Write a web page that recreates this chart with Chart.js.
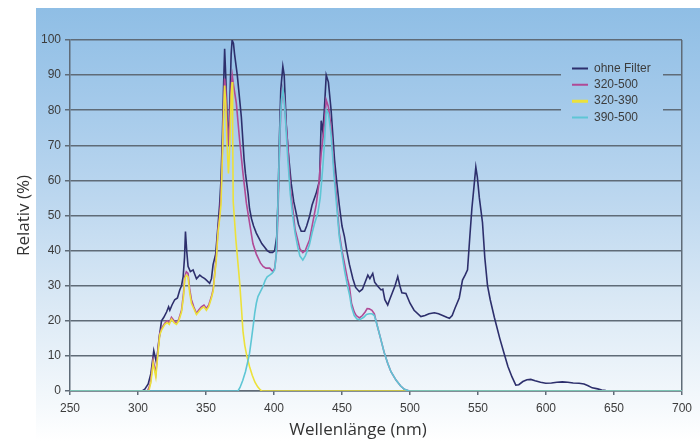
<!DOCTYPE html>
<html><head><meta charset="utf-8">
<script src="https://cdn.jsdelivr.net/npm/chart.js@4"></script>
<style>html,body{margin:0;padding:0;background:#fff}#wrap{width:700px;height:441px}</style>
</head><body><div id="wrap"><canvas id="c" width="700" height="441"></canvas></div>
<script>
const seriesLabels = ['ohne Filter', '320-500', '320-390', '390-500'];
const xTickValues = [250, 300, 350, 400, 450, 500, 550, 600, 650, 700];
const yTickValues = [0, 10, 20, 30, 40, 50, 60, 70, 80, 90, 100];

const wlOhne = [
250, 303, 305, 307.5, 309.5, 311.6, 313.6, 315.5, 317.3, 319,
321, 322.5, 323.4, 325, 327, 329, 330.7, 332, 333.2, 334.2,
334.9, 335.8, 336.8, 338.5, 340.5, 342, 343, 345.4, 347, 349.1,
350.5, 352.7, 354, 355.2, 357.1, 358.8, 360, 361, 362, 363,
363.7, 364.5, 365.5, 366.5, 367.5, 368.5, 369.2, 370.2, 371, 372,
373, 374, 375, 376, 377, 378, 379, 380, 381, 382,
383.5, 385, 387, 389, 391, 393, 395, 397, 399, 400.5,
402, 403, 404, 405, 406.5, 407.5, 409, 410.5, 412.7, 414.5,
416.4, 418, 420, 422.5, 424, 426.1, 428, 431, 433.5, 434.7,
435.9, 437, 438.4, 440, 442, 444.5, 446, 448, 450, 451.8,
453.5, 455.5, 458, 460, 462.8, 465, 467, 469, 470.5, 472.6,
474, 476, 478.7, 480, 481.5, 483.6, 485, 487, 489, 491,
492.5, 494, 497, 500, 503, 508, 511, 514, 517.9, 521,
524, 527, 529, 531, 533, 536.2, 538.6, 540.5, 542.3, 544,
545.5, 547, 548.4, 549.5, 551, 553.3, 555, 557, 559, 562,
566, 569.2, 572, 575, 577.8, 580, 583, 586, 588.8, 592,
596, 599.8, 604, 608, 612, 616, 620, 624.3, 628, 631,
634, 638, 641, 644, 646, 700];
const valOhne = [
0, 0, 0.5, 2, 5, 11.5, 8, 15, 20, 21,
22.5, 24, 23, 24.5, 26, 26.5, 28.8, 30, 32.6, 38,
45.4, 40, 35.5, 34, 34.5, 33, 32, 33, 32.5, 32,
31.5, 30.7, 32, 36, 39, 47, 53, 60, 72, 88,
97.5, 90, 78, 70, 82, 96, 100, 99, 96, 93,
90, 86, 82, 78, 72, 66, 62, 59, 56, 52,
49, 47, 45, 43.5, 42, 41, 40, 39.5, 39.5, 40,
44, 55, 72, 86, 92.5, 90, 76, 68, 59, 54,
50.5, 47.5, 45.5, 45.5, 47, 49.7, 53, 56.3, 60, 77,
74, 80, 90, 88, 80, 66, 60, 53, 47, 44,
40, 36, 32, 29.5, 28.3, 29, 31, 33, 32, 33.5,
31, 30, 28.8, 29, 26, 24.5, 26, 28, 30, 32.6,
30, 28, 27.8, 25, 23, 21.2, 21.5, 22, 22.3, 22,
21.5, 21, 20.7, 21.5, 23.5, 26.5, 31.6, 33, 34.5, 44,
52, 58, 63.8, 61, 55, 48, 38, 30, 26, 21,
15, 10.7, 7, 4, 1.7, 1.8, 2.7, 3.2, 3.3, 2.9,
2.5, 2.2, 2.3, 2.5, 2.6, 2.5, 2.3, 2.2, 2, 1.5,
0.9, 0.6, 0.3, 0.1, 0, 0];

const wl320500 = [
250, 307, 309, 311.1, 313.1, 314.5, 316, 317.5, 319.7, 321.5,
323, 324.6, 326.5, 328.3, 330, 332, 333.5, 334.4, 335.5, 336.8,
338, 339.3, 341, 343, 344.5, 346.6, 348.5, 350.3, 352, 354,
355.3, 356.4, 357.5, 358.8, 360, 361, 362, 363, 363.7, 364.5,
365.5, 366.5, 367.5, 368.5, 369.3, 370.3, 372.3, 374.7, 377.2, 379.7,
382, 384.5, 387, 390, 392, 394, 396.8, 399.2, 400.5, 402,
403, 404, 405, 406.3, 407.5, 408.5, 410.2, 412, 413.9, 415.5,
417.5, 419, 421.2, 423, 424.5, 426.1, 428, 431, 433, 434.7,
436, 437, 438.4, 440, 442, 444, 446, 448, 450, 452,
454, 455.5, 457, 459, 460.5, 462.8, 465, 467, 468.5, 470,
472, 473.8, 476, 478.7, 481, 483.6, 486, 489.7, 493, 495.8,
499.5, 700];
const val320500 = [
0, 0, 2, 8.8, 5, 11, 16.4, 18, 19.3, 20,
19.5, 21, 20, 19.3, 20.5, 23, 28, 32.6, 34, 33.5,
29, 26, 24, 22.1, 23, 24, 24.5, 23.5, 24.5, 26.9,
29, 33.5, 38, 45.9, 50, 56, 68, 82, 89, 86,
77, 70, 78, 87, 90, 87, 82, 71.5, 62, 53.5,
48, 42, 39, 36.5, 35.5, 35, 35, 34, 35, 40,
52, 68, 80, 86.2, 84, 78, 69.6, 58, 51.6, 46,
43, 40.5, 39.4, 40, 41.5, 43, 47, 53, 59, 67.7,
72, 76, 82.9, 81, 75, 64, 55, 45, 40, 36,
32, 29.7, 25, 22.5, 21.5, 20.8, 21.5, 22.5, 23.5, 23.4,
23, 22, 18.5, 14.5, 11, 7.9, 5.5, 3.1, 1.5, 0.5,
0, 0];

const wl320390 = [
250, 308, 309.5, 311.1, 313.1, 314.5, 316, 317.5, 319.7, 321.5,
323, 324.6, 326.5, 328.3, 330, 332, 333.5, 334.4, 335.5, 336.8,
338, 339.3, 341, 343, 344.5, 346.6, 348.5, 350.3, 352, 354,
355.3, 356.4, 357.5, 358.8, 360, 361, 362, 363, 363.7, 364.5,
365.5, 366.5, 367.5, 368.5, 369.2, 369.6, 370, 372, 374.8, 376,
377.2, 378.5, 380, 382, 384, 386, 388, 390, 391, 700];
const val320390 = [
0, 0, 2.5, 8, 4, 10, 16, 17.5, 19, 19.5,
19, 20.5, 19.5, 19, 20, 22.5, 27, 32, 33, 32.5,
28, 25, 23.5, 21.8, 22.5, 23.5, 24, 23, 24, 26.5,
28.5, 33, 37, 45, 49, 53, 66, 80, 87, 82,
70, 62, 70, 84, 88, 76, 54, 43, 30.7, 24,
17, 13, 10, 7, 4.5, 2.5, 1.2, 0.3, 0, 0];

const wl390500 = [
250, 373.5, 375, 377, 379, 380.5, 382, 383.5, 385, 385.8,
387, 388.2, 390, 391.8, 393.5, 395, 396.8, 398.5, 400.4, 401.5,
402.5, 403.5, 404.5, 405.5, 406.5, 407.5, 408.5, 410, 412, 413.9,
415.5, 417.5, 419, 421.2, 423, 424.5, 426, 428, 430, 432.2,
434, 435.9, 437, 438.4, 440, 442, 444, 446, 448, 450,
452, 454, 455.5, 457, 459, 461, 463, 466, 468, 470,
472, 473.8, 476, 478.7, 481, 483.6, 486, 489.7, 493, 495.8,
499.5, 700];
const val390500 = [
0, 0, 1, 3, 5.5, 8, 10.7, 15, 19.5, 22.1,
25, 26.9, 28.3, 29.7, 31.5, 32.5, 33, 33.5, 34.5, 38,
48, 62, 76, 83, 86, 83, 77, 67, 56, 49.5,
45, 41, 38.5, 37.3, 38.5, 40, 41.6, 45, 48, 50.6,
55, 63.9, 70, 80, 79, 73, 62, 53, 44, 39,
34, 30, 27.5, 24, 21.5, 20.5, 20.3, 21, 21.8, 22,
22, 21.5, 18.5, 14.5, 11, 7.9, 5.5, 3.1, 1.5, 0.5,
0, 0];

const toPts = (xs, ys) => xs.map((x, i) => ({x: x, y: ys[i]}));

const GRID = '#5f6b77';
const TXT = '#3c3c3c';

function makeGrad(ctx) {
  const g = ctx.createLinearGradient(0, 8, 0, 441);
  g.addColorStop(0, '#8fbee5');
  g.addColorStop(0.21, '#a3c9ea');
  g.addColorStop(0.44, '#bcd7ef');
  g.addColorStop(0.67, '#d9e8f5');
  g.addColorStop(0.92, '#f5f9fc');
  g.addColorStop(1, '#ffffff');
  return g;
}

const bgPlugin = {
  id: 'bg',
  beforeDraw(chart) {
    const ctx = chart.ctx;
    ctx.save();
    ctx.fillStyle = makeGrad(ctx);
    ctx.fillRect(36, 8, 664, 433);
    ctx.restore();
  }
};

const legendPlace = {
  id: 'legendPlace',
  afterLayout(chart) {
    const lg = chart.legend;
    if (!lg) return;
    lg.left = 567.7; lg.top = 54; lg.right = 680; lg.bottom = 132;
    lg.width = lg.right - lg.left; lg.height = lg.bottom - lg.top;
    if (!lg._wrappedDraw) {
      const orig = lg.draw.bind(lg);
      lg.draw = function(area) {
        const ctx = chart.ctx;
        ctx.save();
        ctx.fillStyle = makeGrad(ctx);
        ctx.fillRect(561, 50, 102, 78);
        ctx.restore();
        orig(area);
      };
      lg._wrappedDraw = true;
    }
  }
};

const commonDs = {pointRadius: 0, pointHoverRadius: 0, pointBorderWidth: 2, borderWidth: 1.6, tension: 0, fill: false};

new Chart(document.getElementById('c'), {
  type: 'line',
  data: {
    datasets: [
      Object.assign({label: seriesLabels[0], data: toPts(wlOhne, valOhne), borderColor: '#2d2f6c', order: 3}, commonDs),
      Object.assign({label: seriesLabels[1], data: toPts(wl320500, val320500), borderColor: '#b04a96', order: 2}, commonDs),
      Object.assign({label: seriesLabels[2], data: toPts(wl320390, val320390), borderColor: '#ece13a', order: 1}, commonDs, {pointBorderWidth: 3}),
      Object.assign({label: seriesLabels[3], data: toPts(wl390500, val390500), borderColor: '#5ec6d5', order: 0}, commonDs)
    ]
  },
  options: {
    responsive: false,
    animation: false,
    layout: {padding: {left: 34, right: 18, top: 40, bottom: 0}},
    plugins: {
      tooltip: {enabled: false},
      legend: {
        position: 'chartArea',
        labels: {
          usePointStyle: true, pointStyle: 'line', pointStyleWidth: 16,
          font: {family: '"Liberation Sans", Arial, sans-serif', size: 12},
          color: TXT, padding: 4.3, textAlign: 'left',
          sort: (a, b) => a.datasetIndex - b.datasetIndex
        }
      },
      title: {
        display: true, position: 'bottom', text: 'Wellenlänge (nm)',
        font: {family: '"Open Sans", "Noto Sans", sans-serif', size: 17, weight: 'normal', lineHeight: 1},
        color: '#333', padding: {top: 0, bottom: 2.5}
      }
    },
    scales: {
      x: {
        type: 'linear', min: 250, max: 700,
        afterBuildTicks: s => { s.ticks = xTickValues.map(v => ({value: v})); },
        ticks: {font: {family: '"Liberation Sans", Arial, sans-serif', size: 12}, color: TXT, padding: 6, maxRotation: 0, autoSkip: false},
        grid: {
          drawOnChartArea: true,
          color: c => (c.tick && c.tick.value === 700) ? GRID : 'rgba(0,0,0,0)',
          tickColor: GRID, tickLength: 4, lineWidth: 1.5
        },
        border: {display: true, color: GRID, width: 1.5},
        afterFit: s => { s.height = 30.5; }
      },
      y: {
        min: 0, max: 100,
        afterBuildTicks: s => { s.ticks = yTickValues.map(v => ({value: v})); },
        ticks: {font: {family: '"Liberation Sans", Arial, sans-serif', size: 12}, color: TXT, padding: 4},
        grid: {color: GRID, lineWidth: 1.5, tickLength: 5, tickColor: GRID},
        border: {display: true, color: GRID, width: 1.5},
        title: {
          display: true, text: 'Relativ (%)',
          font: {family: '"Open Sans", "Noto Sans", sans-serif', size: 17, lineHeight: 1},
          color: '#333', padding: {top: -18, bottom: 0}
        },
        afterFit: s => { s.width = 36; }
      }
    }
  },
  plugins: [bgPlugin, legendPlace]
});
</script></body></html>
